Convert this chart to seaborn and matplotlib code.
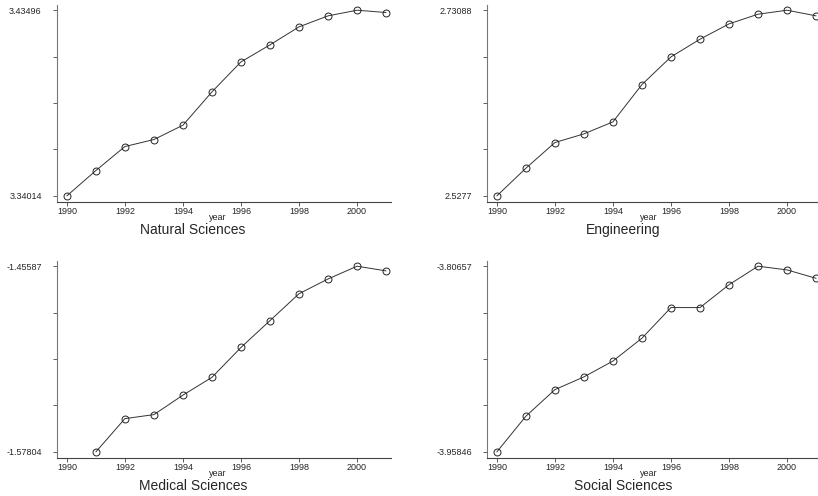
import numpy as np
import pandas as pd
import matplotlib
matplotlib.use("Agg")
from matplotlib import pyplot as plt
import seaborn as sns

years = list(range(1990, 2002))

natural = [3.34014, 3.35308, 3.36534, 3.36891, 3.37623, 3.39325,
           3.40857, 3.41726, 3.42645, 3.43207, 3.43496, 3.43377]
engineering = [2.5277, 2.55798, 2.58606, 2.59555, 2.60868, 2.64953,
               2.67981, 2.69914, 2.71592, 2.72650, 2.73088, 2.72468]
medical = [np.nan, -1.57804, -1.55617, -1.55352, -1.54070, -1.52900,
           -1.50933, -1.49166, -1.47398, -1.46427, -1.45587, -1.45896]
social = [-3.95846, -3.92929, -3.90755, -3.89710, -3.88417, -3.86545,
          -3.84041, -3.84041, -3.82170, -3.80657, -3.80960, -3.81648]

titles = ["Natural Sciences", "Engineering", "Medical Sciences", "Social Sciences"]
series = [natural, engineering, medical, social]
x_ticks = [1990, 1992, 1994, 1996, 1998, 2000]

sns.set_theme(style="white")
plt.rcParams['font.family'] = ['Liberation Sans', 'DejaVu Sans']

W, H = 818, 496
fig = plt.figure(figsize=(W / 100, H / 100), dpi=100)

# panel boxes in pixels: left, top, width, height
boxes = [(57, 5, 334, 197), (487, 5, 334, 197),
         (57, 261, 334, 197), (487, 261, 334, 197)]
# title / xlabel centers in pixels
title_x = [193, 623, 193, 623]
year_x = [218, 649, 218, 649]

for i, (title, vals) in enumerate(zip(titles, series)):
    l, t, w, h = boxes[i]
    ax = fig.add_axes([l / W, 1 - (t + h) / H, w / W, h / H])
    df = pd.DataFrame({"year": years, "value": vals}).dropna()
    sns.lineplot(data=df, x="year", y="value", ax=ax, color="#333333",
                 linewidth=0.7, marker="o", markersize=5,
                 markerfacecolor="none", markeredgecolor="#222222",
                 markeredgewidth=0.7)

    vmin, vmax = df["value"].min(), df["value"].max()
    r = vmax - vmin
    ax.set_ylim(vmin - 0.033 * r, vmax + 0.028 * r)
    ax.set_xlim(1989.66, 2001.17)

    yt = np.linspace(vmin, vmax, 5)
    ax.set_yticks(yt)
    labels = [""] * 5
    labels[0] = f"{vmin:.6g}"
    labels[-1] = f"{vmax:.6g}"
    ax.set_yticklabels(labels)
    ax.set_xticks(x_ticks)
    ax.set_xticklabels([str(x) for x in x_ticks])

    ax.tick_params(axis="both", which="both", direction="out", length=3,
                   width=0.6, color="#444444", labelsize=6.5,
                   left=True, bottom=True)
    ax.tick_params(axis="y", pad=8)
    ax.tick_params(axis="x", pad=0.5)
    for s in ["top", "right"]:
        ax.spines[s].set_visible(False)
    ax.spines["left"].set_color("#777777")
    ax.spines["bottom"].set_color("#444444")
    ax.spines["left"].set_linewidth(0.8)
    ax.spines["bottom"].set_linewidth(0.8)
    ax.set_xlabel("")
    ax.set_ylabel("")
    ax.grid(False)

    base = t + h
    fig.text(year_x[i] / W, 1 - (base + 16) / H, "year", fontsize=6.5,
             ha="center", va="center")
    fig.text(title_x[i] / W, 1 - (base + 28) / H, title, fontsize=10,
             ha="center", va="center")

fig.savefig("out.png", dpi=100)
